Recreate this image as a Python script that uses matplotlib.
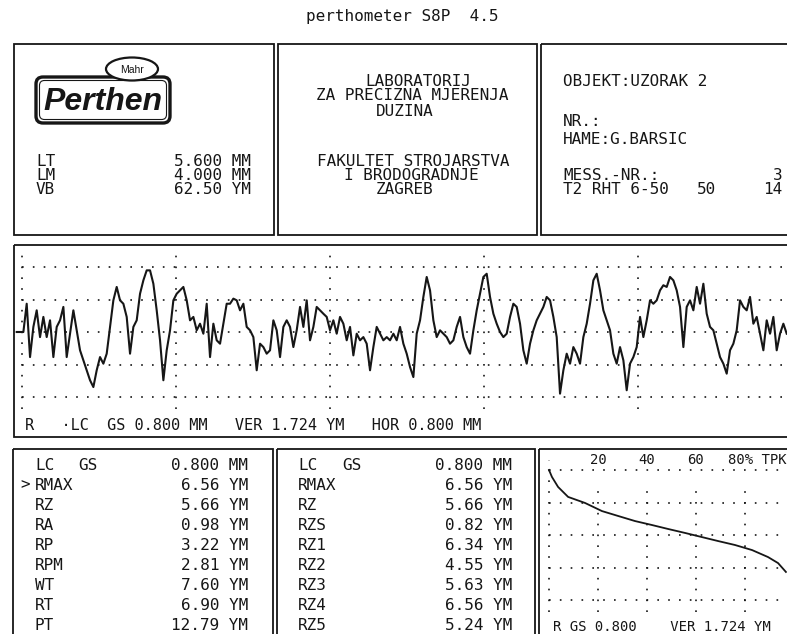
import numpy as np
import matplotlib.pyplot as plt
from matplotlib.patches import Rectangle, FancyBboxPatch, Ellipse

# profil R, ocitano sa slike (um), jednoliki korak po duljini LM
profile_um = [
    0.00, 0.00, 0.00, 1.50, -1.33, 0.27, 1.15, -0.27, 0.80, -0.27,
    0.62, -1.33, 0.27, 0.62, 1.33, -1.33, -0.09, 1.15, 0.09, -0.97,
    -1.50, -2.03, -2.56, -2.92, -2.03, -1.33, -1.68, -1.15, 0.27, 1.68,
    2.39, 1.68, 1.50, 0.80, -1.15, 0.27, 0.62, 2.03, 2.74, 3.27,
    3.27, 2.56, 1.15, -0.44, -2.56, -0.97, 0.09, 1.68, 2.03, 2.21,
    2.39, 1.68, 0.62, 0.80, 0.09, 0.44, -0.09, 1.50, -1.33, 0.44,
    -0.44, -0.62, 0.44, 1.50, 1.50, 1.77, 1.68, 1.15, 1.50, 0.27,
    0.09, -0.27, -2.03, -0.62, -0.80, -1.15, -0.97, 0.62, 0.09, -1.33,
    0.27, 0.62, 0.27, -0.80, 0.09, 1.33, 0.27, 1.68, -0.44, 0.27,
    1.33, 1.15, 0.97, 0.80, 0.09, 0.62, -0.09, 0.80, 0.44, -0.44,
    0.27, -1.24, -0.09, -0.44, -0.27, -0.62, -2.03, -0.80, 0.27, -0.09,
    -0.44, -0.27,
    -0.44, -0.09, -0.44, 0.27, -0.62, -1.15, -1.86, -2.39, -0.09, 0.62,
    1.86, 2.92, 2.21, 0.62, -0.27, 0.09, -0.09, -0.27, -0.62, -0.44,
    0.27, 0.80, -0.27, -0.80, -1.15, 0.09, 1.15, 2.03, 2.92, 3.09,
    1.86, 0.97, 0.44, 0.00, -0.27, -0.09, 0.80, 1.50, 1.33, 0.44,
    -0.97, -1.68, -0.62, 0.09, 0.62, 0.97, 1.33, 1.86, 1.68, 0.80,
    -0.27, -3.27, -2.03, -1.15, -1.68, -0.80, -1.15, -1.68, -0.27, 0.44,
    1.50, 2.74, 3.09, 2.21, 1.15, 0.62, 0.09, -1.15, -1.68, -0.80,
    -1.50, -3.09, -1.68, -1.33, -0.80, 0.80, -0.27, 0.62, 1.68, 1.50,
    1.68, 2.21, 2.48, 2.39, 2.92, 2.74, 2.21, 1.33, -0.80, 1.33,
    1.68, 1.15, 2.39, 1.50, 2.56, 0.97, 0.27, 0.09, -0.62, -1.33,
    -1.68, -2.21, -0.97, -0.62, 0.09, 1.68, 1.33, 1.15, 1.86, 0.44,
    0.80, -0.09, -0.97, 0.62, -0.09, 0.80, -0.97, -0.09, 0.44, -0.09,
]

# krivulja nosivosti (TPK)
tp_percent = [0, 1.2, 3.7, 7.8, 14.7, 21.6, 28.2, 35.1, 42.0, 48.6,
              55.5, 62.4, 69.0, 75.9, 82.9, 89.4, 93.5, 96.7]
tp_height_um = [3.45, 3.08, 2.55, 2.02, 1.70, 1.27, 1.01, 0.74, 0.53, 0.32,
                0.11, -0.11, -0.32, -0.53, -0.80, -1.17, -1.49, -1.96]
tp_ticks = [20, 40, 60, 80]

LT = 5.600
LM = 4.000
VB = 62.50
LC_GS = 0.800
VER = 1.724
HOR = 0.800

params_left = ['RMAX', 'RZ', 'RA', 'RP', 'RPM', 'WT', 'RT', 'PT']
values_left = [6.56, 5.66, 0.98, 3.22, 2.81, 7.60, 6.90, 12.79]
params_right = ['RMAX', 'RZ', 'RZS', 'RZ1', 'RZ2', 'RZ3', 'RZ4', 'RZ5']
values_right = [6.56, 5.66, 0.82, 6.34, 4.55, 5.63, 6.56, 5.24]

INK = '#161616'
MONO = 'DejaVu Sans Mono'
W, H = 787, 634

fig = plt.figure(figsize=(W / 100, H / 100), dpi=100)
page = fig.add_axes([0, 0, 1, 1])
page.set_xlim(0, W)
page.set_ylim(H, 0)
page.axis('off')


def box(x0, y0, x1, y1, lw=1.3):
    page.add_patch(Rectangle((x0, y0), x1 - x0, y1 - y0, fill=False, lw=lw, ec=INK))


def txt(x, y, s, ha='left', size=11.5):
    page.text(x, y, s, ha=ha, va='center', fontsize=size, family=MONO, color=INK)


def sub_axes(x0, y0, x1, y1):
    a = fig.add_axes([x0 / W, 1 - y1 / H, (x1 - x0) / W, (y1 - y0) / H])
    a.axis('off')
    a.patch.set_alpha(0)
    return a


dots = (0, (1, 5.5))

# naslov
txt(402, 16, 'perthometer S8P  4.5', ha='center')

# gornji okviri
box(14, 44, 274, 235)
box(278, 44, 537, 235)
box(541, 44, 800, 235)

# logo
page.add_patch(FancyBboxPatch((36, 77), 134, 46, boxstyle='round,pad=0,rounding_size=7',
                              fill=False, lw=2.4, ec=INK))
page.add_patch(FancyBboxPatch((39.5, 80.5), 127, 39, boxstyle='round,pad=0,rounding_size=5',
                              fill=False, lw=0.8, ec=INK))
page.add_patch(Ellipse((132, 69), 52, 23, fc='white', ec=INK, lw=1.6, zorder=3))
page.text(132, 70, 'Mahr', ha='center', va='center', fontsize=7.5,
          family='Liberation Sans', color=INK, zorder=4)
page.text(103, 102, 'Perthen', ha='center', va='center', fontsize=23, weight='bold',
          style='italic', family='Liberation Sans', color=INK)

txt(36, 161, 'LT')
txt(36, 175, 'LM')
txt(36, 189, 'VB')
txt(251, 161, f'{LT:.3f} MM', ha='right')
txt(251, 175, f'{LM:.3f} MM', ha='right')
txt(251, 189, f'{VB:.2f} YM', ha='right')

txt(418, 81, 'LABORATORIJ', ha='center')
txt(412, 96, 'ZA PRECIZNA MJERENJA', ha='center')
txt(405, 112, 'DUZINA', ha='center')
txt(413, 161, 'FAKULTET STROJARSTVA', ha='center')
txt(411, 175, 'I BRODOGRADNJE', ha='center')
txt(405, 189, 'ZAGREB', ha='center')

txt(563, 81, 'OBJEKT:UZORAK 2')
txt(563, 121, 'NR.:')
txt(563, 139, 'HAME:G.BARSIC')
txt(563, 175, 'MESS.-NR.:')
txt(782, 175, '3', ha='right')
txt(563, 189, 'T2 RHT 6-50')
txt(716, 189, '50', ha='right')
txt(782, 189, '14', ha='right')

# profil
box(14, 245, 800, 437)
PX_MM = 192.5
PX_UM = 32.5 / VER
x0_px, z0_px = 16.7, 332
prof = sub_axes(14, 245, 787, 437)
prof.set_xlim((14 - x0_px) / PX_MM, (787 - x0_px) / PX_MM)
prof.set_ylim(-(437 - z0_px) / PX_UM, (z0_px - 245) / PX_UM)
x_mm = np.linspace(0, LM, len(profile_um))
for k in range(-2, 3):
    prof.plot([0.03, LM + 0.1], [k * VER, k * VER], color=INK, lw=1.2, ls=dots)
for vx in 0.03 + HOR * np.arange(5):
    prof.plot([vx, vx], [-4.1, 4.1], color=INK, lw=1.2, ls=dots)
prof.plot(x_mm, profile_um, color=INK, lw=1.5)
txt(25, 425, f'R   \u00b7LC  GS {LC_GS:.3f} MM   VER {VER:.3f} YM   HOR {HOR:.3f} MM', size=11)

# donji okviri
box(13, 449, 273, 660)
box(277, 449, 535, 660)
box(539, 449, 800, 660)

rows_y = [465 + 20 * i for i in range(9)]
txt(35, rows_y[0], 'LC')
txt(78, rows_y[0], 'GS')
txt(248, rows_y[0], f'{LC_GS:.3f} MM', ha='right')
txt(298, rows_y[0], 'LC')
txt(342, rows_y[0], 'GS')
txt(512, rows_y[0], f'{LC_GS:.3f} MM', ha='right')
txt(20, rows_y[1], '>')
for i, (p, v) in enumerate(zip(params_left, values_left)):
    txt(35, rows_y[i + 1], p)
    txt(248, rows_y[i + 1], f'{v:.2f} YM', ha='right')
for i, (p, v) in enumerate(zip(params_right, values_right)):
    txt(298, rows_y[i + 1], p)
    txt(512, rows_y[i + 1], f'{v:.2f} YM', ha='right')

# krivulja nosivosti
PX_PCT = 2.45
tp0_px, tz0_px = 549, 535
tpk = sub_axes(539, 449, 787, 634)
tpk.set_xlim((539 - tp0_px) / PX_PCT, (787 - tp0_px) / PX_PCT)
tpk.set_ylim(-(634 - tz0_px) / PX_UM, (tz0_px - 449) / PX_UM)
for k in range(-2, 3):
    tpk.plot([0, 100], [k * VER, k * VER], color=INK, lw=1.2, ls=dots)
tpk.plot([0, 0], [-4.1, 4.0], color=INK, lw=1.2, ls=dots)
for t in tp_ticks:
    tpk.plot([t, t], [-4.1, 2.8], color=INK, lw=1.2, ls=dots)
tpk.plot(tp_percent, tp_height_um, color=INK, lw=1.3)
for t in tp_ticks[:-1]:
    tpk.text(t, (tz0_px - 460) / PX_UM, str(t), ha='center', va='center',
             fontsize=10, family=MONO, color=INK)
tpk.text(tp_ticks[-1] - 7, (tz0_px - 460) / PX_UM, f'{tp_ticks[-1]}% TPK', ha='left',
         va='center', fontsize=10, family=MONO, color=INK, clip_on=True)
txt(553, 627, f'R GS {LC_GS:.3f}    VER {VER:.3f} YM', size=10)

fig.savefig('out.png', dpi=100, facecolor='white')
